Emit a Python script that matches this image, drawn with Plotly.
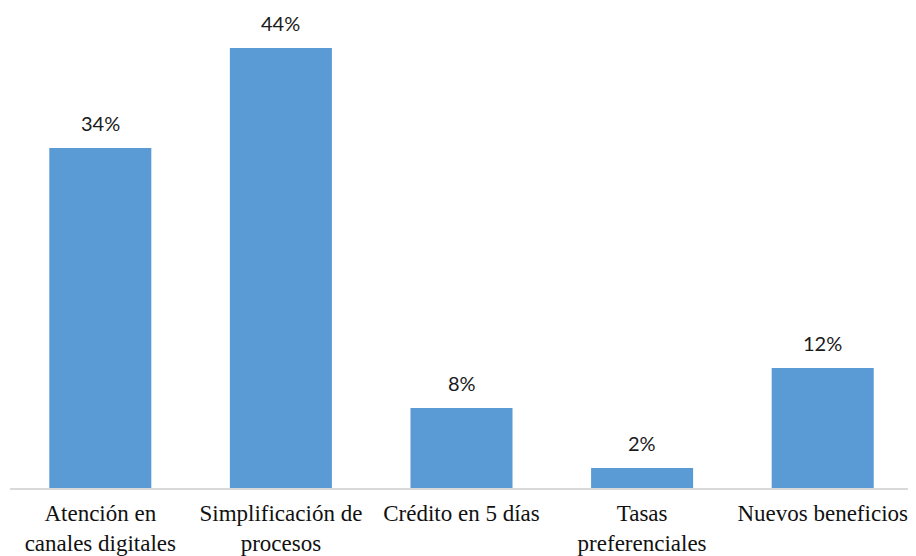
import plotly.graph_objects as go

categories = ["Atención en<br>canales digitales", "Simplificación de<br>procesos",
              "Crédito en 5 días", "Tasas<br>preferenciales", "Nuevos beneficios"]
values = [34, 44, 8, 2, 12]
labels = ["34%", "44%", "8%", "2%", "12%"]

fig = go.Figure()
fig.add_trace(go.Bar(x=categories, y=values, marker=dict(color="#5B9BD5", line=dict(width=0)),
                     hoverinfo="skip"))

for c, v, t in zip(categories, values, labels):
    fig.add_annotation(x=c, y=v, text=t, showarrow=False, yanchor="bottom", yshift=11,
                       font=dict(family="Lato", size=20, color="#1a1a1a"))

# page body has an 8px margin, so the figure is sized to fit the 916x556 window
fig.update_layout(
    width=908, height=548,
    margin=dict(l=2, r=3, t=30, b=68),
    paper_bgcolor="white", plot_bgcolor="white",
    bargap=0.435, showlegend=False,
    xaxis=dict(showline=True, linecolor="#d9d9d9", linewidth=1.5, showgrid=False,
               automargin=False,
               ticks="outside", ticklen=4, tickcolor="rgba(0,0,0,0)",
               tickfont=dict(family="Liberation Serif", size=23, color="#111111")),
    yaxis=dict(range=[0, 45], visible=False, showgrid=False, zeroline=False, automargin=False),
)

fig.write_html("out.html")
